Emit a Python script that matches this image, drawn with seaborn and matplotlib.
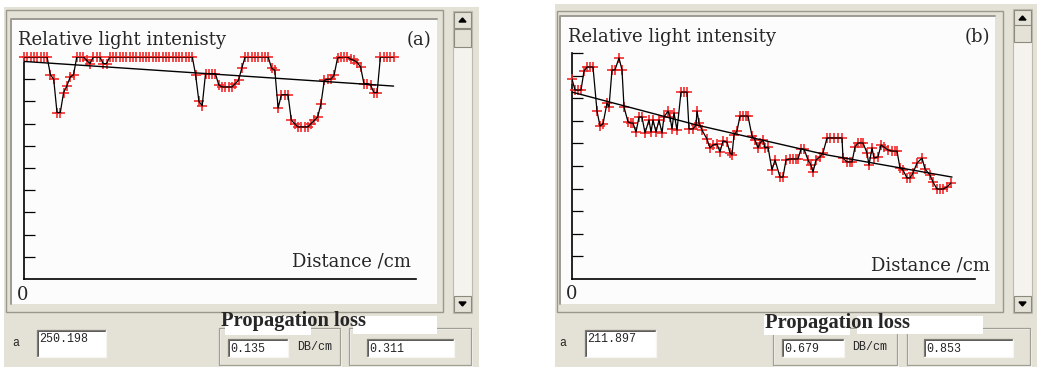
import matplotlib
matplotlib.use("Agg")
import matplotlib.pyplot as plt
import seaborn as sns
import numpy as np
from matplotlib.patches import Rectangle, Polygon

# ---------------- data ----------------
# panel (a): sample index vs relative light intensity
sample_a = list(range(113))
intensity_a = [
    1.0, 1.0, 1.0, 1.0, 1.0, 1.0, 1.0, 1.0,
    0.92, 0.90, 0.75, 0.75, 0.84, 0.87, 0.91, 0.92,
    1.0, 1.0, 1.0, 0.985, 0.97, 1.0, 1.0, 1.0, 0.97, 0.97,
    1.0, 1.0, 1.0, 1.0, 1.0, 1.0, 1.0, 1.0, 1.0, 1.0, 1.0, 1.0, 1.0,
    1.0, 1.0, 1.0, 1.0, 1.0, 1.0, 1.0, 1.0, 1.0, 1.0, 1.0, 1.0, 1.0,
    0.92, 0.80, 0.78, 0.925, 0.925, 0.925, 0.925,
    0.875, 0.865, 0.865, 0.865, 0.865, 0.88, 0.895, 0.95,
    1.0, 1.0, 1.0, 1.0, 1.0, 1.0, 1.0, 1.0,
    0.95, 0.94, 0.77, 0.83, 0.83, 0.83, 0.716, 0.70,
    0.685, 0.685, 0.685, 0.685, 0.70, 0.715, 0.73, 0.79,
    0.895, 0.90, 0.90, 0.92, 0.995, 1.0, 1.0, 1.0,
    0.99, 0.985, 0.975, 0.955, 0.88, 0.88, 0.875, 0.84, 0.84,
    1.0, 1.0, 1.0, 1.0, 1.0,
]
fit_a_x = [0, 112]
fit_a_y = [0.980, 0.869]

# panel (b): distance vs relative light intensity
distance_b = [
    0.0, 0.3, 0.6, 0.9, 1.2, 1.5, 1.8, 2.1, 2.5, 2.8, 3.1, 3.5, 3.7, 4.0, 4.3, 4.7,
    5.0, 5.2, 5.6, 5.9, 6.1, 6.4, 6.7, 7.0, 7.3, 7.7, 7.9, 8.1, 8.4, 8.7, 9.0, 9.2,
    9.6, 9.8, 10.0, 10.2, 10.5, 10.9, 11.2, 11.5, 11.7, 12.1, 12.4, 12.5, 12.7, 13.0,
    13.5, 13.8, 14.1, 14.5, 14.8, 15.1, 15.5, 15.8, 16.0, 16.2, 16.5, 16.8, 17.1, 17.4,
    17.6, 18.0, 18.3, 18.6, 18.8, 19.1, 19.3, 19.6, 20.0, 20.3, 20.8, 21.1, 21.4, 21.8,
    22.1, 22.4, 22.6, 22.9, 23.2, 23.6, 23.9, 24.1, 24.4, 24.8, 25.1, 25.5, 25.8, 26.2,
    26.6, 27.0, 27.1, 27.5, 27.8, 28.0, 28.3, 28.6, 28.9, 29.1, 29.5, 29.7, 30.0, 30.2,
    30.6, 30.9, 31.2, 31.6, 32.0, 32.3, 32.5, 32.8, 33.1, 33.5, 33.8, 34.1, 34.5, 35.0,
    35.3, 35.8, 36.1, 36.5, 36.8, 37.1, 37.5, 37.9,
]
intensity_b = [
    0.885, 0.836, 0.836, 0.836, 0.920, 0.938, 0.938, 0.938, 0.743, 0.677, 0.686, 0.779,
    0.761, 0.925, 0.925, 0.978, 0.925, 0.761, 0.695, 0.690, 0.690, 0.650, 0.717, 0.717,
    0.646, 0.704, 0.650, 0.704, 0.650, 0.704, 0.646, 0.717, 0.743, 0.717, 0.664, 0.735,
    0.659, 0.827, 0.827, 0.827, 0.664, 0.664, 0.681, 0.743, 0.690, 0.659, 0.619, 0.580,
    0.593, 0.597, 0.562, 0.611, 0.606, 0.558, 0.549, 0.637, 0.655, 0.721, 0.721, 0.721,
    0.721, 0.633, 0.615, 0.580, 0.602, 0.615, 0.580, 0.584, 0.482, 0.527, 0.451, 0.451,
    0.527, 0.531, 0.531, 0.531, 0.531, 0.575, 0.575, 0.527, 0.504, 0.473, 0.527, 0.540,
    0.558, 0.624, 0.624, 0.624, 0.624, 0.624, 0.535, 0.518, 0.518, 0.518, 0.584, 0.602,
    0.602, 0.602, 0.558, 0.504, 0.580, 0.535, 0.540, 0.593, 0.584, 0.571, 0.566, 0.566,
    0.566, 0.491, 0.482, 0.447, 0.447, 0.469, 0.513, 0.535, 0.487, 0.460, 0.429, 0.398,
    0.398, 0.398, 0.407, 0.425,
]
fit_b_x = [0.0, 12.5, 25.5, 38.0]
fit_b_y = [0.827, 0.681, 0.549, 0.451]

y_ticks = [0.1, 0.2, 0.3, 0.4, 0.5, 0.6, 0.7, 0.8, 0.9, 1.0]

title_a = "Relative light intenisty"
title_b = "Relative light intensity"
xlabel = "Distance /cm"
panel_tags = ["(a)", "(b)"]
a_values = ["250.198", "211.897"]
loss_db = ["0.135", "0.679"]
loss_other = ["0.311", "0.853"]
loss_label = "Propagation loss"
unit_label = "DB/cm"

# ---------------- figure ----------------
sns.set_theme(style="white")
plt.rcParams["font.family"] = ["DejaVu Serif", "Liberation Serif"]

W, H = 1037, 367
fig = plt.figure(figsize=(W / 100, H / 100), dpi=100)
fig.patch.set_facecolor("white")

bg = fig.add_axes([0, 0, 1, 1])
bg.set_xlim(0, W)
bg.set_ylim(H, 0)
bg.axis("off")
bg.set_zorder(0)

GRAY = "#E4E1D6"
DARK = "#8C897F"
SERIF = ["DejaVu Serif", "Liberation Serif"]
BOLD_SERIF = ["Liberation Serif", "DejaVu Serif"]
FS = 13.0


def box(x0, y0, x1, y1, fc="none", ec="none", lw=1.0, z=1):
    bg.add_patch(Rectangle((x0, y0), x1 - x0, y1 - y0, facecolor=fc,
                           edgecolor=ec, linewidth=lw, zorder=z))


def sunken(x0, y0, x1, y1, z=3):
    box(x0, y0, x1, y1, fc="white", z=z)
    bg.plot([x0, x0, x1], [y1, y0, y0], color="#7d7b74", lw=0.9, zorder=z + 0.1)
    bg.plot([x0 + 1, x0 + 1, x1 - 1], [y1 - 1, y0 + 1, y0 + 1], color="#404040", lw=0.6, zorder=z + 0.1)
    bg.plot([x0, x1, x1], [y1, y1, y0], color="#f6f5f0", lw=0.9, zorder=z + 0.1)


def etched(x0, y0, x1, y1, z=2):
    box(x0, y0, x1, y1, ec="#a19e94", lw=0.9, z=z)
    box(x0 + 1, y0 + 1, x1 + 1, y1 + 1, ec="#fbfaf6", lw=0.6, z=z - 0.1)


def scrollbar(x0, x1, y0, y1, t0, t1):
    box(x0, y0, x1, y1, fc="#F4F3EE", ec="#bdbab0", lw=0.8, z=2)
    box(x0 + 1, y0 + 1, x1 - 1, y0 + 17, fc=GRAY, ec=DARK, lw=0.8, z=3)
    cx = (x0 + x1) / 2
    bg.add_patch(Polygon([[cx - 3.5, y0 + 11], [cx + 3.5, y0 + 11], [cx, y0 + 7]],
                         closed=True, color="black", zorder=4))
    box(x0 + 1, t0, x1 - 1, t1, fc=GRAY, ec=DARK, lw=0.8, z=3)
    box(x0 + 1, y1 - 17, x1 - 1, y1 - 1, fc=GRAY, ec=DARK, lw=0.8, z=3)
    bg.add_patch(Polygon([[cx - 3.5, y1 - 11], [cx + 3.5, y1 - 11], [cx, y1 - 7]],
                         closed=True, color="black", zorder=4))


def add_ax(x0, y0, x1, y1):
    ax = fig.add_axes([x0 / W, 1 - y1 / H, (x1 - x0) / W, (y1 - y0) / H])
    ax.set_zorder(5)
    ax.patch.set_visible(False)
    return ax


def draw_panel(layout, xs, ys, fx, fy, xmax, title, tag, idx):
    L = layout
    box(L["gx0"], L["gy0"], L["gx1"], H, fc=GRAY, z=0.5)
    box(L["fx0"], L["fy0"], L["fx1"], L["fy1"], ec="#9a978d", lw=1.0, z=1)
    box(L["px0"], L["py0"], L["px1"], L["py1"], fc="#FCFCFC", z=1.5)
    bg.plot([L["px0"], L["px0"], L["px1"]], [L["py1"], L["py0"], L["py0"]],
            color="#9c9a92", lw=1.4, zorder=1.6)
    scrollbar(L["sx0"], L["sx1"], L["sy0"], L["sy1"], L["t0"], L["t1"])

    ax = add_ax(L["ax0"], L["ay0"], L["ax1"], L["ay1"])
    sns.scatterplot(x=xs, y=ys, marker="+", color="#f42a2a", s=50, linewidth=1.2,
                    ax=ax, zorder=3, clip_on=False, legend=False)
    sns.lineplot(x=xs, y=ys, color="black", lw=0.9, ax=ax, zorder=4,
                 sort=False, estimator=None, legend=False)
    sns.lineplot(x=fx, y=fy, color="black", lw=1.0, ax=ax, zorder=4,
                 sort=False, estimator=None, legend=False)
    ax.set_xlim(0, xmax)
    ax.set_ylim(0, 1)
    for s in ["top", "right"]:
        ax.spines[s].set_visible(False)
    for s in ["left", "bottom"]:
        ax.spines[s].set_color("black")
        ax.spines[s].set_linewidth(1.2)
    ax.set_xticks([])
    ax.set_yticks(y_ticks)
    ax.tick_params(axis="y", direction="in", length=8, width=0.9, color="black",
                   labelleft=False, left=True)
    ax.set_xlabel("")
    ax.set_ylabel("")

    bg.text(L["tx"], L["ty"], title, family=SERIF, fontsize=FS, va="baseline", ha="left", zorder=6)
    bg.text(L["tagx"], L["ty"], tag, family=SERIF, fontsize=FS, va="baseline", ha="right", zorder=6)
    bg.text(L["dx"], L["dy"], xlabel, family=SERIF, fontsize=FS, va="baseline", ha="right", zorder=6)
    bg.text(L["zx"], L["zy"], "0", family=SERIF, fontsize=FS, va="baseline", ha="center", zorder=6)

    mono = dict(family=["Liberation Mono", "DejaVu Sans Mono"], fontsize=8.4, zorder=8)
    bg.text(L["ax_lbl"], 346, "a", va="baseline", **mono)
    sunken(L["b1x0"], 330, L["b1x1"], 357)
    bg.text(L["b1x0"] + 2, 342, a_values[idx], va="baseline", **mono)
    etched(L["g1x0"], 328, L["g1x1"], 365)
    etched(L["g2x0"], 328, L["g2x1"], 365)
    box(L["w1x0"], 316, L["w1x1"], 335, fc="white", z=2.5)
    box(L["w2x0"], 316, L["w2x1"], 334, fc="white", z=2.5)
    sunken(L["i1x0"], 339, L["i1x1"], 357)
    bg.text(L["i1x0"] + 2, 352, loss_db[idx], va="baseline", **mono)
    bg.text(L["ux"], 350, unit_label, va="baseline", **mono)
    sunken(L["i2x0"], 339, L["i2x1"], 357)
    bg.text(L["i2x0"] + 2, 352, loss_other[idx], va="baseline", **mono)
    bg.text(L["plx"], L["ply"], loss_label, family=BOLD_SERIF, fontsize=14.8,
            fontweight="bold", va="baseline", ha="left", zorder=9)


layout_a = dict(gx0=4, gy0=7, gx1=479,
                fx0=6, fy0=10, fx1=443, fy1=312,
                px0=11, py0=19, px1=437, py1=304,
                sx0=453, sx1=472, sy0=11, sy1=313, t0=29, t1=47,
                ax0=24, ay0=57, ax1=416, ay1=279,
                tx=18, ty=45, tagx=431, dx=411, dy=267, zx=23, zy=300,
                ax_lbl=12, b1x0=37, b1x1=106,
                g1x0=219, g1x1=340, g2x0=349, g2x1=471,
                w1x0=225, w1x1=311, w2x0=353, w2x1=437,
                i1x0=228, i1x1=288, ux=297, i2x0=367, i2x1=454,
                plx=221, ply=326)

layout_b = dict(gx0=555, gy0=4, gx1=1037,
                fx0=557, fy0=11, fx1=1003, fy1=312,
                px0=560, py0=16, px1=995, py1=304,
                sx0=1013, sx1=1032, sy0=9, sy1=313, t0=25, t1=42,
                ax0=572, ay0=53, ax1=975, ay1=279,
                tx=568, ty=42, tagx=990, dx=990, dy=271, zx=572, zy=299,
                ax_lbl=559, b1x0=585, b1x1=656,
                g1x0=773, g1x1=897, g2x0=907, g2x1=1030,
                w1x0=764, w1x1=850, w2x0=857, w2x1=983,
                i1x0=782, i1x1=844, ux=852, i2x0=924, i2x1=1013,
                plx=765, ply=328)

draw_panel(layout_a, sample_a, intensity_a, fit_a_x, fit_a_y,
           (416 - 24) / 3.3, title_a, panel_tags[0], 0)
draw_panel(layout_b, distance_b, intensity_b, fit_b_x, fit_b_y,
           (975 - 572) / 10, title_b, panel_tags[1], 1)

fig.savefig("out.png", dpi=100, facecolor="white")
